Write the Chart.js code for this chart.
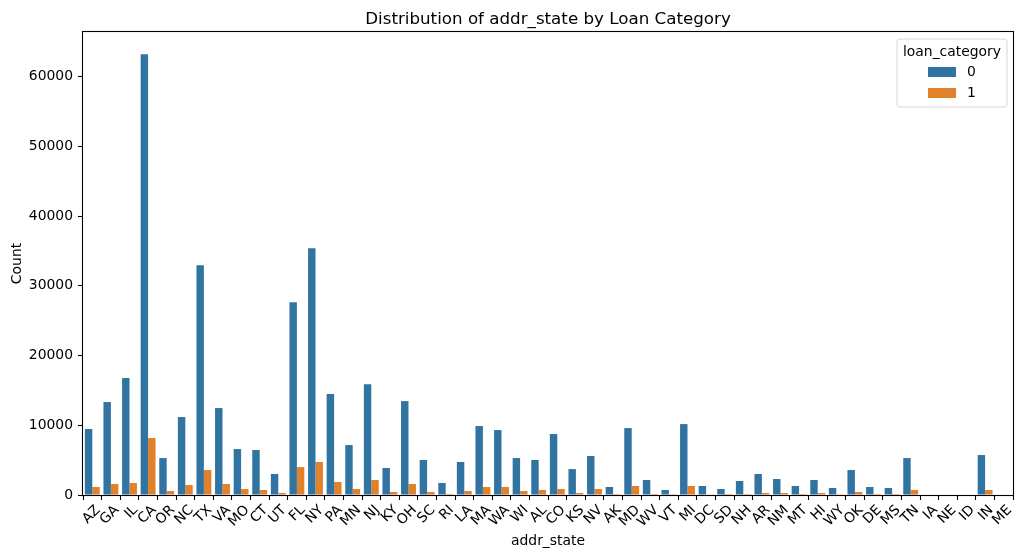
<!DOCTYPE html>
<html>
<head>
<meta charset="utf-8">
<script src="https://cdn.jsdelivr.net/npm/chart.js@4.4.1/dist/chart.umd.min.js"></script>
<style>
  body { margin: 0; background: #fff; }
  canvas { display: block; }
</style>
</head>
<body>
<canvas id="chart" width="1026" height="560"></canvas>
<script>
// categories, in the order they appear on the x axis
const states = ['AZ', 'GA', 'IL', 'CA', 'OR', 'NC', 'TX', 'VA', 'MO', 'CT', 'UT', 'FL', 'NY', 'PA', 'MN', 'NJ',
  'KY', 'OH', 'SC', 'RI', 'LA', 'MA', 'WA', 'WI', 'AL', 'CO', 'KS', 'NV', 'AK', 'MD', 'WV', 'VT', 'MI', 'DC',
  'SD', 'NH', 'AR', 'NM', 'MT', 'HI', 'WY', 'OK', 'DE', 'MS', 'TN', 'IA', 'NE', 'ID', 'IN', 'ME'];

// loan_category = 0
const count0 = [9460, 13330, 16770, 63200, 5300, 11180, 32950, 12470, 6590, 6450, 3010, 27650, 35400, 14470, 7160, 15900,
  3870, 13470, 5020, 1720, 4730, 9890, 9310, 5300, 5020, 8740, 3720, 5590, 1150, 9600, 2150, 720, 10170, 1290,
  860, 2010, 3010, 2290, 1290, 2150, 1000, 3580, 1150, 1000, 5300, 0, 0, 0, 5730, 0];

// loan_category = 1
const count1 = [1150, 1580, 1720, 8170, 570, 1430, 3580, 1580, 860, 720, 290, 4010, 4730, 1860, 860, 2150,
  430, 1580, 430, 140, 570, 1150, 1150, 570, 720, 860, 290, 860, 140, 1290, 140, 30, 1290, 50,
  140, 140, 290, 290, 140, 290, 40, 430, 140, 140, 720, 0, 0, 0, 720, 0];

const hueLabels = ['0', '1'];
const hueColors = ['#3274a1', '#e1812c'];
const yTicks = [0, 10000, 20000, 30000, 40000, 50000, 60000];

const FONT = 'DejaVu Sans';

// title, axis labels, frame and the legend box, drawn the matplotlib way
const decorations = {
  id: 'decorations',
  afterDraw(chart) {
    const { ctx, chartArea: a } = chart;
    ctx.save();
    ctx.strokeStyle = '#000';
    ctx.lineWidth = 1.1;
    ctx.strokeRect(a.left - 0.5, a.top - 0.5, a.right - a.left + 1, a.bottom - a.top + 1);

    ctx.fillStyle = '#000';
    ctx.textAlign = 'center';
    ctx.font = '16.7px "' + FONT + '"';
    ctx.textBaseline = 'alphabetic';
    ctx.fillText('Distribution of addr_state by Loan Category', (a.left + a.right) / 2, a.top - 8.3);

    ctx.font = '13.9px "' + FONT + '"';
    ctx.textBaseline = 'middle';
    ctx.fillText('addr_state', (a.left + a.right) / 2, 541);
    ctx.save();
    ctx.translate(17, (a.top + a.bottom) / 2);
    ctx.rotate(-Math.PI / 2);
    ctx.fillText('Count', 0, 0);
    ctx.restore();

    // legend
    const bx = 897, by = 39, bw = 110, bh = 68, r = 3;
    ctx.beginPath();
    ctx.moveTo(bx + r, by);
    ctx.arcTo(bx + bw, by, bx + bw, by + bh, r);
    ctx.arcTo(bx + bw, by + bh, bx, by + bh, r);
    ctx.arcTo(bx, by + bh, bx, by, r);
    ctx.arcTo(bx, by, bx + bw, by, r);
    ctx.closePath();
    ctx.fillStyle = 'rgba(255,255,255,0.8)';
    ctx.fill();
    ctx.strokeStyle = '#d6d6d6';
    ctx.lineWidth = 1;
    ctx.stroke();

    ctx.fillStyle = '#000';
    ctx.fillText('loan_category', bx + bw / 2, 52);
    chart.data.datasets.forEach((ds, i) => {
      const cy = 72 + i * 21;
      ctx.fillStyle = ds.backgroundColor;
      ctx.fillRect(928, cy - 5, 28, 10);
      ctx.fillStyle = '#000';
      ctx.textAlign = 'left';
      ctx.fillText(ds.label, 967, cy);
    });
    ctx.restore();
  }
};

new Chart(document.getElementById('chart'), {
  type: 'bar',
  data: {
    labels: states,
    datasets: [
      { label: hueLabels[0], data: count0, backgroundColor: hueColors[0] },
      { label: hueLabels[1], data: count1, backgroundColor: hueColors[1] }
    ]
  },
  options: {
    responsive: false,
    animation: false,
    devicePixelRatio: 1,
    layout: { padding: { top: 32, right: 13, left: 0, bottom: 0 } },
    datasets: { bar: { categoryPercentage: 0.8, barPercentage: 1.0 } },
    plugins: {
      legend: { display: false },
      title: { display: false },
      tooltip: { enabled: false }
    },
    scales: {
      x: {
        grid: { display: true, drawOnChartArea: false, tickLength: 5, color: '#000', tickWidth: 1.1 },
        border: { display: false },
        ticks: {
          autoSkip: false, maxRotation: 45, minRotation: 45, padding: 2, labelOffset: 6,
          color: '#000', font: { family: FONT, size: 13.9 }
        },
        afterFit(scale) { scale.height = 65; }
      },
      y: {
        min: 0,
        max: 66400,
        grid: { display: true, drawOnChartArea: false, tickLength: 5, color: '#000', tickWidth: 1.1 },
        border: { display: false },
        afterBuildTicks(scale) { scale.ticks = yTicks.map(v => ({ value: v })); },
        ticks: { padding: 5, color: '#000', font: { family: FONT, size: 13.9 }, callback: v => String(v) },
        afterFit(scale) { scale.width = 83; }
      }
    }
  },
  plugins: [decorations]
});
</script>
</body>
</html>
